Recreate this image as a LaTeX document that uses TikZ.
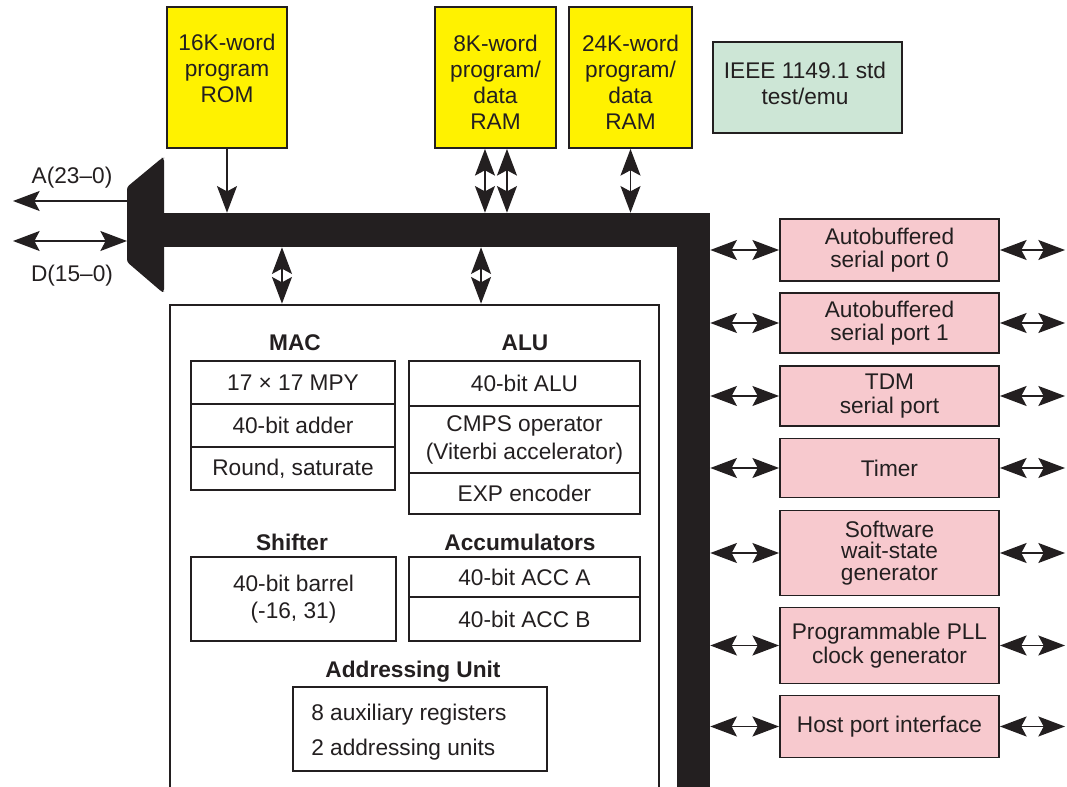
\documentclass[tikz,border=0pt]{standalone}
\usepackage{fontspec}
\setmainfont{Liberation Sans}
\usetikzlibrary{arrows.meta}
\definecolor{ink}{HTML}{231F20}
\definecolor{ylw}{HTML}{FFF200}
\definecolor{pnk}{HTML}{F7C9CE}
\definecolor{grn}{HTML}{CDE6D6}
\tikzset{
  >={Stealth[length=20pt,width=15pt,inset=4pt]},
  base/.style={font=\fontsize{17}{17.5}\selectfont, text=ink},
  ybox/.style={draw=ink, line width=1.4pt, fill=ylw, inner sep=0pt},
  gbox/.style={draw=ink, line width=1.4pt, fill=grn, inner sep=0pt},
  pbox/.style={base, draw=ink, line width=1.4pt, fill=pnk, inner sep=0pt, align=center, minimum width=164.25pt},
  cell/.style={base, draw=ink, line width=1.3pt, inner sep=0pt, align=center},
  txt/.style={base, inner sep=0pt, align=center},
  head/.style={base, font=\fontsize{17}{17.5}\selectfont\bfseries, inner sep=0pt},
  bus/.style={fill=ink, draw=none, inner sep=0pt},
  conn/.style={draw=ink, line width=1.1pt},
}
\begin{document}
\begin{tikzpicture}[x=0.75pt,y=-0.75pt]
\useasboundingbox (0,0) rectangle (1067,787);
\clip (0,0) rectangle (1067,787);

% memory blocks
\node[ybox, minimum width=90pt, minimum height=105.75pt] (rom) at (227,77.5) {};
\node[txt, anchor=north, font=\fontsize{17}{19.5}\selectfont] (romt) at (227,34) {16K-word\\program\\ROM};
\node[ybox, minimum width=90.75pt, minimum height=105.75pt] (ram8) at (495.5,77.5) {};
\node[txt, anchor=north, font=\fontsize{17}{19.5}\selectfont] (ram8t) at (495.5,35) {8K-word\\program/\\data\\RAM};
\node[ybox, minimum width=92.25pt, minimum height=105.75pt] (ram24) at (630.5,77.5) {};
\node[txt, anchor=north, font=\fontsize{17}{19.5}\selectfont] (ram24t) at (630.5,35) {24K-word\\program/\\data\\RAM};
\node[gbox, minimum width=141.75pt, minimum height=68.25pt] (ieee) at (807.5,87.5) {};
\node[txt, anchor=north, font=\fontsize{17}{19}\selectfont] (ieeet) at (805,62) {IEEE 1149.1 std\\test/emu};

% buses
\node[bus, minimum width=411pt, minimum height=25.5pt] (hbus) at (436,230) {};
\node[bus, minimum width=24.75pt, minimum height=440.25pt] (vbus) at (693.5,506.5) {};
\fill[ink, rounded corners=2pt] (127,187) -- (162,158) -- (164,158) -- (164,292) -- (162,292) -- (127,262) -- cycle;
\coordinate (muxA) at (127,201);
\coordinate (muxD) at (127,241);
\coordinate (aEnd) at (13,201);
\coordinate (dEnd) at (13,241);
\draw[conn,->] (muxA) -- (aEnd);
\draw[conn,<->] (dEnd) -- (muxD);
\node[txt, anchor=base] (alab) at (72,184) {A(23–0)};
\node[txt, anchor=base] (dlab) at (72,282) {D(15–0)};

% memory connectors
\draw[conn,->] (rom.south) -- (rom.south |- hbus.north);
\coordinate (r8a) at ([xshift=-7.9pt]ram8.south);
\coordinate (r8b) at ([xshift=8.6pt]ram8.south);
\draw[conn,<->] (r8a) -- (r8a |- hbus.north);
\draw[conn,<->] (r8b) -- (r8b |- hbus.north);
\draw[conn,<->] (ram24.south) -- (ram24.south |- hbus.north);

% CPU
\node[draw=ink, line width=2pt, inner sep=0pt, minimum width=366.75pt, minimum height=371.25pt] (cpu) at (414.5,552.5) {};
\coordinate (cpuA) at ([xshift=-99.4pt]cpu.north);
\coordinate (cpuB) at ([xshift=49.9pt]cpu.north);
\draw[conn,<->] (cpuA |- hbus.south) -- (cpuA);
\draw[conn,<->] (cpuB |- hbus.south) -- (cpuB);

\node[head, anchor=base] (mach) at (295,351) {MAC};
\node[cell, minimum width=153pt, minimum height=32.25pt] (mac1) at (293,382.5) {17 × 17 MPY};
\node[cell, minimum width=153pt, minimum height=32.25pt] (mac2) at (293,425.5) {40-bit adder};
\node[cell, minimum width=153pt, minimum height=32.25pt] (mac3) at (293,468.5) {Round, saturate};

\node[head, anchor=base] (aluh) at (525,351) {ALU};
\node[cell, minimum width=173.25pt, minimum height=33.75pt] (alu1) at (524.5,383.5) {40-bit ALU};
\node[cell, minimum width=173.25pt, minimum height=50.25pt, font=\fontsize{17}{21}\selectfont] (alu2) at (524.5,439.5) {CMPS operator\\(Viterbi accelerator)};
\node[cell, minimum width=173.25pt, minimum height=30.75pt] (alu3) at (524.5,493.5) {EXP encoder};

\node[head, anchor=base] (shh) at (292,550) {Shifter};
\node[cell, minimum width=153.75pt, minimum height=63pt, font=\fontsize{17}{20.5}\selectfont] (sh) at (293.5,599) {40-bit barrel\\(-16, 31)};

\node[head, anchor=base] (acch) at (520,550) {Accumulators};
\node[cell, minimum width=173.25pt, minimum height=30pt] (acc1) at (524.5,577) {40-bit ACC A};
\node[cell, minimum width=173.25pt, minimum height=33pt] (acc2) at (524.5,619) {40-bit ACC B};

\node[head, anchor=base] (adh) at (413,677) {Addressing Unit};
\node[draw=ink, line width=1.3pt, inner sep=0pt, minimum width=190.5pt, minimum height=63pt] (ad) at (420,729) {};
\node[txt, anchor=base west] (ad1) at (311,720) {8 auxiliary registers};
\node[txt, anchor=base west] (ad2) at (311,755) {2 addressing units};

% peripherals
\node[pbox, minimum height=46.5pt] (p0) at (889.5,250) {Autobuffered\\serial port 0};
\node[pbox, minimum height=45pt] (p1) at (889.5,323) {Autobuffered\\serial port 1};
\node[pbox, minimum height=45pt] (p2) at (889.5,396) {TDM\\serial port};
\node[pbox, minimum height=44.25pt] (p3) at (889.5,468) {Timer};
\node[pbox, minimum height=63.75pt, font=\fontsize{17}{16}\selectfont] (p4) at (889.5,553) {Software\\wait-state\\generator};
\node[pbox, minimum height=57pt] (p5) at (889.5,645.5) {Programmable PLL\\clock generator};
\node[pbox, minimum height=46.5pt] (p6) at (889.5,726.5) {Host port interface};
\coordinate (redge) at (1065,0);
\foreach \p in {p0,p1,p2,p3,p4,p5,p6}{
  \draw[conn,<->] (vbus.east |- \p.west) -- (\p.west);
  \draw[conn,<->] (\p.east) -- (\p.east -| redge);
}
\end{tikzpicture}
\end{document}
